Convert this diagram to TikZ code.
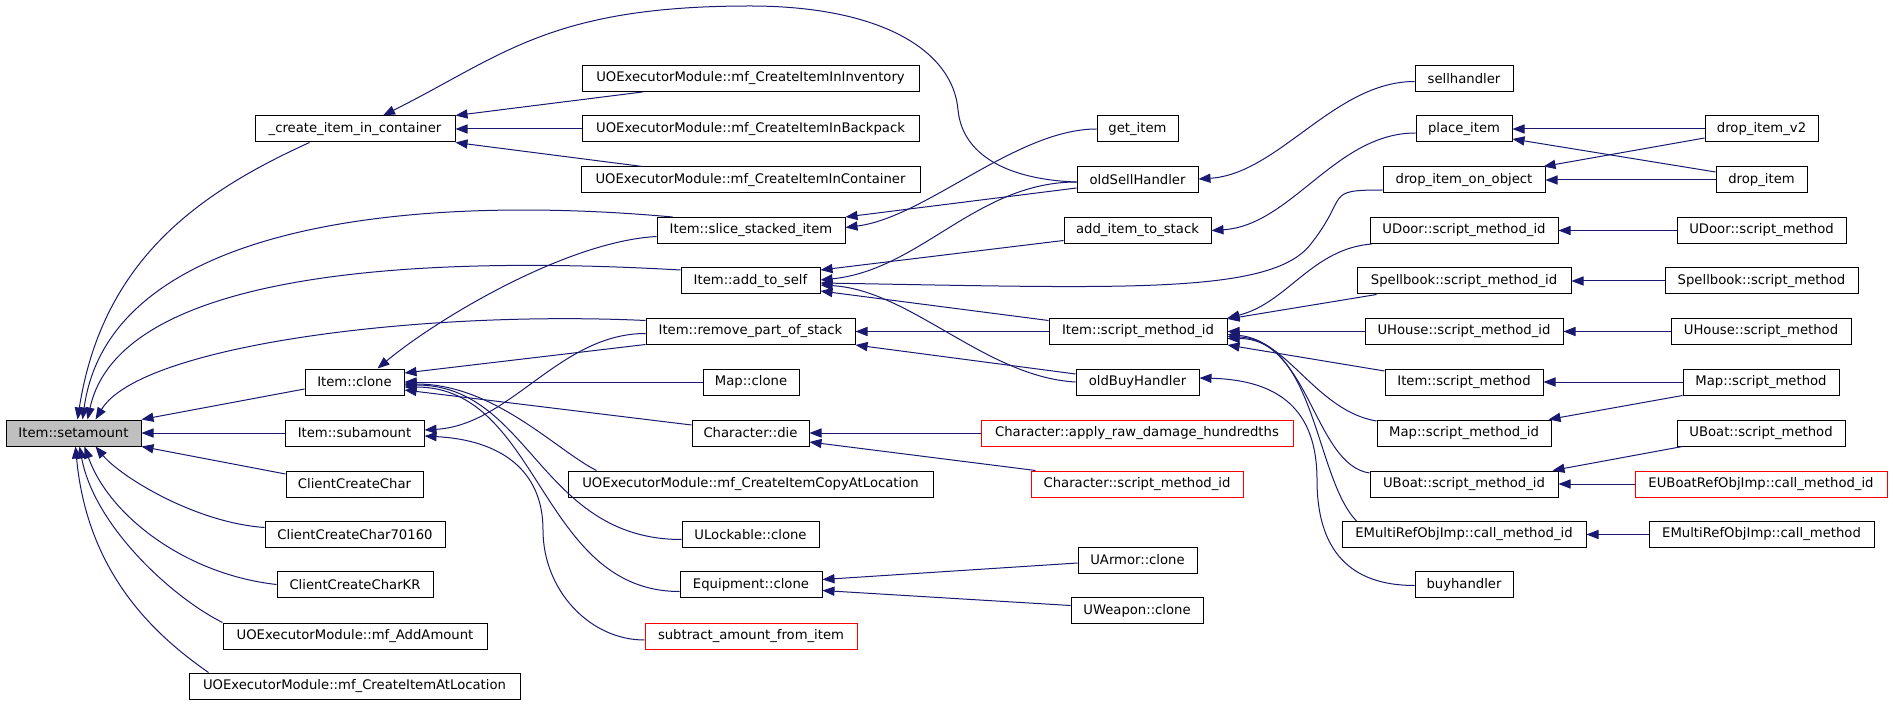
\documentclass[tikz,border=0pt]{standalone}
\usepackage{fontspec}
\setmainfont{DejaVu Sans}
\usetikzlibrary{arrows.meta,calc}
\definecolor{edgeblue}{HTML}{191970}
\definecolor{extred}{HTML}{FF0000}
\definecolor{curgray}{HTML}{BFBFBF}
\begin{document}
\begin{tikzpicture}[x=0.5pt, y=-0.5pt,
    fn/.style={draw=black, line width=0.5pt, inner sep=0pt, minimum height=13pt, font=\fontsize{6.6}{8}\selectfont},
    wd/.style={minimum width=#1*0.5pt},
    ext/.style={draw=extred},
    cur/.style={fill=curgray},
    call/.style={draw=edgeblue, line width=0.5pt, {Triangle[length=6pt, width=4.6pt]}-}]
    \useasboundingbox (0,0) rectangle (1893,705);

    \node[fn, cur, wd=135] (setamount) at (73.5,433) {Item::setamount};

    \node[fn, wd=200] (create) at (355,129) {\_create\_item\_in\_container};
    \node[fn, wd=99] (clone) at (354.5,382) {Item::clone};
    \node[fn, wd=139] (subamount) at (354.5,433) {Item::subamount};
    \node[fn, wd=137] (ccc) at (354.5,484) {ClientCreateChar};
    \node[fn, wd=180] (ccc70) at (355,534.5) {ClientCreateChar70160};
    \node[fn, wd=156] (ccckr) at (355,584.5) {ClientCreateCharKR};
    \node[fn, wd=264] (addamount) at (355,636) {UOExecutorModule::mf\_AddAmount};
    \node[fn, wd=331] (createatloc) at (354.5,686) {UOExecutorModule::mf\_CreateItemAtLocation};

    \node[fn, wd=337] (inventory) at (750.5,78.5) {UOExecutorModule::mf\_CreateItemInInventory};
    \node[fn, wd=337] (backpack) at (750.5,129) {UOExecutorModule::mf\_CreateItemInBackpack};
    \node[fn, wd=339] (container) at (750.5,180) {UOExecutorModule::mf\_CreateItemInContainer};
    \node[fn, wd=188] (slice) at (751,230.5) {Item::slice\_stacked\_item};
    \node[fn, wd=139] (addtoself) at (750.5,281) {Item::add\_to\_self};
    \node[fn, wd=209] (removepart) at (750.5,331.5) {Item::remove\_part\_of\_stack};
    \node[fn, wd=96] (mapclone) at (751,382) {Map::clone};
    \node[fn, wd=117] (chardie) at (750.5,433) {Character::die};
    \node[fn, wd=365] (copyatloc) at (750.5,484) {UOExecutorModule::mf\_CreateItemCopyAtLocation};
    \node[fn, wd=137] (ulockable) at (750.5,534.5) {ULockable::clone};
    \node[fn, wd=142] (equipclone) at (751,584.5) {Equipment::clone};
    \node[fn, ext, wd=212] (subtract) at (751,636) {subtract\_amount\_from\_item};

    \node[fn, wd=81] (getitem) at (1137.5,129) {get\_item};
    \node[fn, wd=121] (oldsell) at (1137.5,180) {oldSellHandler};
    \node[fn, wd=147] (additemtostack) at (1137.5,230.5) {add\_item\_to\_stack};
    \node[fn, wd=178] (itemsmid) at (1138,331.5) {Item::script\_method\_id};
    \node[fn, wd=123] (oldbuy) at (1137.5,382) {oldBuyHandler};
    \node[fn, ext, wd=312] (applyraw) at (1137,433) {Character::apply\_raw\_damage\_hundredths};
    \node[fn, ext, wd=212] (charsmid) at (1137,484) {Character::script\_method\_id};
    \node[fn, wd=119] (uarmor) at (1137.5,560) {UArmor::clone};
    \node[fn, wd=132] (uweapon) at (1137,610.5) {UWeapon::clone};

    \node[fn, wd=98] (sellhandler) at (1464,78.5) {sellhandler};
    \node[fn, wd=96] (placeitem) at (1464,129) {place\_item};
    \node[fn, wd=162] (dropobj) at (1464,180) {drop\_item\_on\_object};
    \node[fn, wd=188] (udoorid) at (1464,230.5) {UDoor::script\_method\_id};
    \node[fn, wd=214] (spellid) at (1464,281) {Spellbook::script\_method\_id};
    \node[fn, wd=198] (uhouseid) at (1464,331.5) {UHouse::script\_method\_id};
    \node[fn, wd=158] (itemsm) at (1464,382) {Item::script\_method};
    \node[fn, wd=174] (mapsmid) at (1464,433) {Map::script\_method\_id};
    \node[fn, wd=188] (uboatid) at (1464,484) {UBoat::script\_method\_id};
    \node[fn, wd=244] (emultiid) at (1464,534.5) {EMultiRefObjImp::call\_method\_id};
    \node[fn, wd=98] (buyhandler) at (1464,584.5) {buyhandler};

    \node[fn, wd=113] (dropv2) at (1761.5,129) {drop\_item\_v2};
    \node[fn, wd=91] (dropitem) at (1761.5,180) {drop\_item};
    \node[fn, wd=169] (udoorsm) at (1761.5,230.5) {UDoor::script\_method};
    \node[fn, wd=193] (spellsm) at (1761.5,281) {Spellbook::script\_method};
    \node[fn, wd=180] (uhousesm) at (1761,331.5) {UHouse::script\_method};
    \node[fn, wd=156] (mapsm) at (1761,382) {Map::script\_method};
    \node[fn, wd=168] (uboatsm) at (1761,433) {UBoat::script\_method};
    \node[fn, ext, wd=252] (euboat) at (1761,484) {EUBoatRefObjImp::call\_method\_id};
    \node[fn, wd=225] (emultism) at (1761.5,534.5) {EMultiRefObjImp::call\_method};

    \draw[call] ($(setamount.north)+(4,0)$) .. controls +(25,-160) and +(-110,50) .. ($(create.south west)+(55,0)$);
    \draw[call] ($(setamount.north)+(9,0)$) .. controls +(27.5,-199) and +(-253,-23) .. ($(slice.north west)+(16,0)$);
    \draw[call] ($(setamount.north)+(14,0)$) .. controls +(32.5,-149) and +(-261,-15) .. ($(addtoself.west)+(0,-11)$);
    \draw[call] ($(setamount.north)+(22,0)$) .. controls +(44.5,-74) and +(-226,-10.5) .. ($(removepart.west)+(0,-11)$);
    \draw[call] (setamount.north east) -- ($(clone.west)+(0,7)$);
    \draw[call] (setamount.east) -- (subamount.west);
    \draw[call] (setamount.south east) -- ($(ccc.west)+(0,-10)$);
    \draw[call] ($(setamount.south)+(22,0)$) .. controls +(25,30) and +(-70,-5) .. ($(ccc70.west)+(0,-7)$);
    \draw[call] ($(setamount.south)+(11,0)$) .. controls +(25,70) and +(-90,-10) .. (ccckr.west);
    \draw[call] ($(setamount.south)+(6,0)$) .. controls +(15,80) and +(-50,-25) .. (addamount.north west);
    \draw[call] ($(setamount.south)+(2,0)$) .. controls +(12,130) and +(-50,-35) .. ($(createatloc.north west)+(20,0)$);

    \draw[call] ($(create.north)+(28,0)$) .. controls +(120,-60) and +(-200,0) .. (750,6) .. controls +(130,0) and +(-5,-60) .. (958,110) .. controls +(5,50) and +(-60,-2) .. ($(oldsell.west)+(0,2)$);
    \draw[call] (create.north east) -- ($(inventory.south west)+(61,0)$);
    \draw[call] (create.east) -- (backpack.west);
    \draw[call] (create.south east) -- ($(container.north west)+(62,0)$);

    \draw[call] (slice.north east) -- ($(oldsell.west)+(0,8)$);
    \draw[call] ($(slice.east)+(0,-3)$) .. controls +(80,-10) and +(-80,0) .. (getitem.west);
    \draw[call] ($(clone.north)+(23,0)$) .. controls +(60,-50) and +(-90,5) .. ($(slice.west)+(0,6)$);

    \draw[call] ($(addtoself.east)+(0,-11)$) -- ($(additemtostack.west)+(0,10)$);
    \draw[call] ($(addtoself.east)+(0,-1)$) .. controls +(100,-10) and +(-100,0) .. ($(oldsell.west)+(0,2)$);
    \draw[call] ($(addtoself.east)+(0,2)$) .. controls +(300,5) and +(-40,50) .. (1310,245) .. controls +(40,-50) and +(-60,0) .. ($(dropobj.west)+(0,10)$);
    \draw[call] ($(addtoself.east)+(0,10)$) -- ($(itemsmid.west)+(0,-11)$);
    \draw[call] ($(addtoself.east)+(0,4)$) .. controls +(90,5) and +(-90,-5) .. (oldbuy.west);

    \draw[call] (removepart.east) -- (itemsmid.west);
    \draw[call] (removepart.south east) -- ($(oldbuy.west)+(0,-8)$);
    \draw[call] ($(subamount.east)+(0,-3)$) .. controls +(86,-5) and +(-86,0) .. ($(removepart.west)+(0,2)$);
    \draw[call] ($(subamount.east)+(0,3)$) .. controls +(76,4) and +(0,-60) .. (543,530) .. controls +(0,60) and +(-55,0) .. ($(subtract.west)+(0,4)$);

    \draw[call] ($(clone.east)+(0,-9)$) -- ($(removepart.west)+(0,13)$);
    \draw[call] (clone.east) -- (mapclone.west);
    \draw[call] ($(clone.east)+(0,8)$) -- ($(chardie.west)+(0,-8)$);
    \draw[call] ($(clone.east)+(0,2)$) .. controls +(90,0) and +(-40,-20) .. ($(copyatloc.north west)+(29,0)$);
    \draw[call] ($(clone.east)+(0,3)$) .. controls +(126,0) and +(-142,0) .. ($(ulockable.west)+(0,5)$);
    \draw[call] ($(clone.east)+(0,5)$) .. controls +(136,0) and +(-140,0) .. ($(equipclone.west)+(0,7)$);

    \draw[call] (chardie.east) -- (applyraw.west);
    \draw[call] ($(chardie.east)+(0,9)$) -- ($(charsmid.north west)+(5,0)$);
    \draw[call] ($(equipclone.east)+(0,-5)$) -- ($(uarmor.west)+(0,3)$);
    \draw[call] ($(equipclone.east)+(0,6)$) -- ($(uweapon.west)+(0,-5)$);

    \draw[call] ($(oldsell.east)+(0,-1)$) .. controls +(80,-5) and +(-80,0) .. ($(sellhandler.west)+(0,3)$);
    \draw[call] (additemtostack.east) .. controls +(80,-5) and +(-80,0) .. ($(placeitem.west)+(0,4)$);
    \draw[call] ($(oldbuy.east)+(0,-4)$) .. controls +(80,2) and +(0,-70) .. (1317,480) .. controls +(0,70) and +(-65,0) .. ($(buyhandler.west)+(0,1)$);

    \draw[call] (itemsmid.north east) .. controls +(60,-15) and +(-60,5) .. ($(udoorid.south west)+(2,0)$);
    \draw[call] ($(itemsmid.north east)+(0,1)$) -- ($(spellid.south west)+(20,0)$);
    \draw[call] (itemsmid.east) -- (uhouseid.west);
    \draw[call] (itemsmid.south east) -- ($(itemsm.west)+(0,-11)$);
    \draw[call] ($(itemsmid.east)+(0,3)$) .. controls +(60,5) and +(-60,-10) .. ($(mapsmid.west)+(0,-12)$);
    \draw[call] ($(itemsmid.east)+(0,5)$) .. controls +(82,3.5) and +(-55,-8) .. ($(uboatid.west)+(0,-11)$);
    \draw[call] ($(itemsmid.east)+(0,7)$) .. controls +(88,0) and +(-41,-42) .. ($(emultiid.north west)+(15,0)$);

    \draw[call] (placeitem.east) -- (dropv2.west);
    \draw[call] ($(placeitem.east)+(0,10)$) -- ($(dropitem.west)+(0,-8)$);
    \draw[call] ($(dropobj.north east)+(-2,0)$) -- ($(dropv2.west)+(0,9)$);
    \draw[call] (dropobj.east) -- (dropitem.west);
    \draw[call] (udoorid.east) -- (udoorsm.west);
    \draw[call] (spellid.east) -- (spellsm.west);
    \draw[call] (uhouseid.east) -- (uhousesm.west);
    \draw[call] (itemsm.east) -- (mapsm.west);
    \draw[call] ($(mapsmid.north east)+(-3,0)$) -- (mapsm.south west);
    \draw[call] ($(uboatid.north east)+(-6,0)$) -- ($(uboatsm.south west)+(6,0)$);
    \draw[call] (uboatid.east) -- (euboat.west);
    \draw[call] (emultiid.east) -- (emultism.west);
\end{tikzpicture}
\end{document}
